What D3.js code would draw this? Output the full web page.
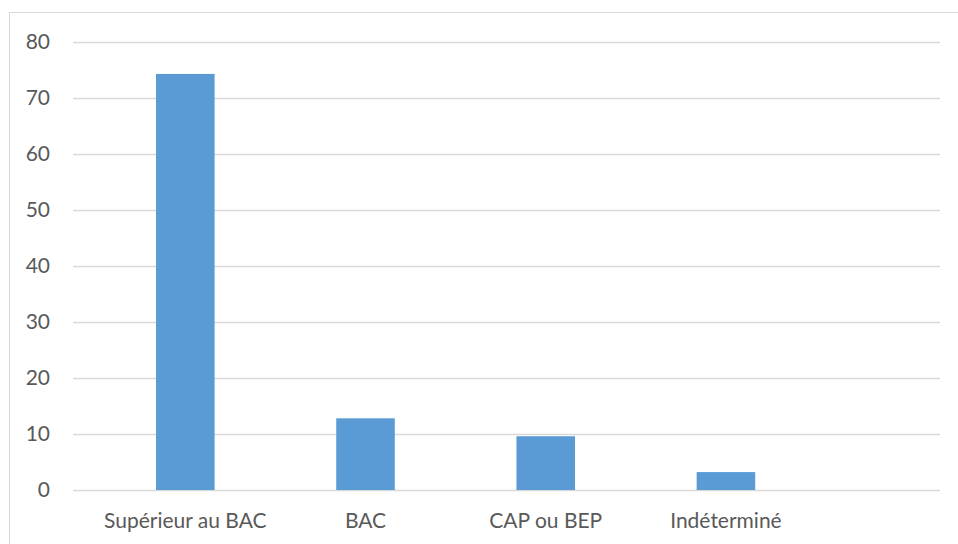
<!DOCTYPE html>
<html><head><meta charset="utf-8">
<script src="https://cdn.jsdelivr.net/npm/d3@7"></script>
<style>body{margin:0;background:#fff}svg{display:block}</style>
</head><body>
<script>
const categories = ["Supérieur au BAC", "BAC", "CAP ou BEP", "Indéterminé"];
const values = [74.3, 12.8, 9.6, 3.2];
const yTicks = [0, 10, 20, 30, 40, 50, 60, 70, 80];

(function () {
const W = 958, H = 544;
const svg = d3.select("body").append("svg").attr("width", W).attr("height", H);
svg.append("rect").attr("x", 9.5).attr("y", 12.5).attr("width", W).attr("height", H)
  .attr("fill", "#fff").attr("stroke", "#d9d9d9").attr("stroke-width", 1);

const mLeft = 73, mRight = 940, mTop = 42, mBottom = 490;
const y = d3.scaleLinear().domain([0, 80]).range([mBottom, mTop]);
const x = d3.scaleBand().domain(categories).range([mLeft, mRight])
  .paddingInner(0.675).paddingOuter(0.743).align(0.31);

const font = "Lato, 'Noto Sans', sans-serif";
const yAxis = d3.axisLeft(y).tickValues(yTicks).tickSize(-(mRight - mLeft)).tickPadding(23);
const gy = svg.append("g").attr("transform", `translate(${mLeft},0)`).call(yAxis);
gy.select(".domain").remove();
gy.selectAll(".tick line").attr("stroke", "#d9d9d9").attr("stroke-width", 1.3);
gy.selectAll(".tick text").attr("fill", "#595959").style("font-family", font).style("font-size", "21px");

svg.append("g").selectAll("rect").data(values).join("rect")
  .attr("x", (d, i) => x(categories[i]))
  .attr("width", x.bandwidth())
  .attr("y", d => y(d))
  .attr("height", d => y(0) - y(d))
  .attr("fill", "#5b9bd5");

const xAxis = d3.axisBottom(x).tickSize(0).tickPadding(23);
const gx = svg.append("g").attr("transform", `translate(0,${mBottom})`).call(xAxis);
gx.select(".domain").remove();
gx.selectAll(".tick text").attr("fill", "#595959").style("font-family", font).style("font-size", "21px");
})();
</script>
</body></html>
